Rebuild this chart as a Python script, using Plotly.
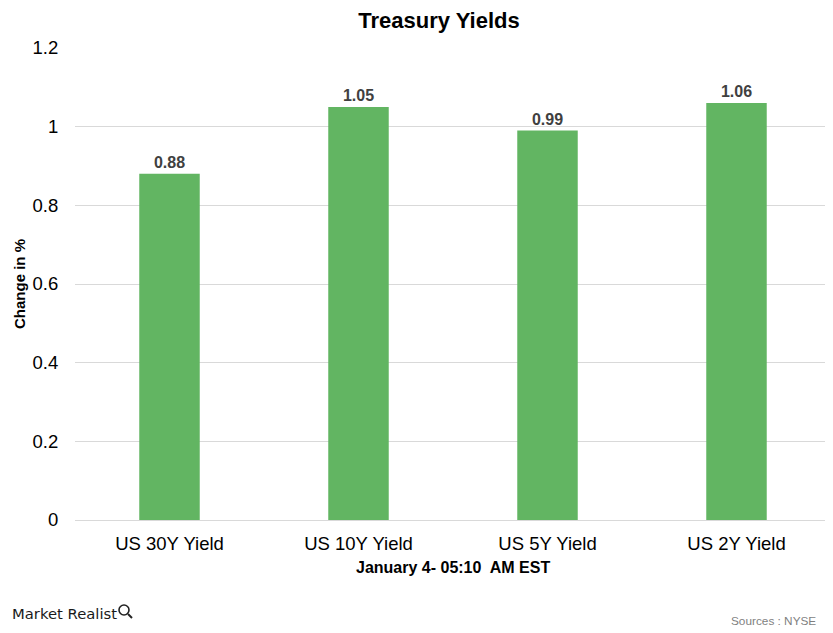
import plotly.graph_objects as go

categories = ["US 30Y Yield", "US 10Y Yield", "US 5Y Yield", "US 2Y Yield"]
values = [0.88, 1.05, 0.99, 1.06]
y_ticks = [0, 0.2, 0.4, 0.6, 0.8, 1, 1.2]

FONT = "Liberation Sans, Arial"

fig = go.Figure()
fig.add_trace(go.Bar(
    x=categories, y=values,
    marker=dict(color="#62B562", line=dict(width=0)),
    text=[f"<b>{v:.2f}</b>" for v in values],
    textposition="outside",
    textfont=dict(family=FONT, size=16, color="#404040"),
    cliponaxis=False,
))

fig.update_layout(
    width=833, height=633,
    margin=dict(l=67, r=10, t=40, b=121),
    paper_bgcolor="white", plot_bgcolor="white",
    bargap=0.68,
    showlegend=False,
    font=dict(family=FONT, color="#000000"),
    title=dict(text="<b>Treasury Yields</b>", x=0.4815, xref="paper", y=0.981, yref="container",
               xanchor="center", yanchor="middle",
               font=dict(size=22, color="#000000")),
    xaxis=dict(
        tickfont=dict(size=18.5, color="#000000"),
        ticks="outside", ticklen=7, tickcolor="rgba(0,0,0,0)",
        showgrid=False, showline=False,
    ),
    yaxis=dict(
        range=[0, 1.2], tickvals=y_ticks, ticktext=["0", "0.2", "0.4", "0.6", "0.8", "1", "1.2"],
        tickfont=dict(size=18.5, color="#000000"),
        showgrid=True, gridcolor="#d9d9d9", gridwidth=1,
        zeroline=True, zerolinecolor="#d9d9d9", zerolinewidth=1,
        ticks="outside", ticklen=12, tickcolor="rgba(0,0,0,0)",
    ),
)

# axis titles
fig.add_annotation(text="<b>Change in %</b>", xref="paper", yref="paper", x=0, y=0.5,
                   xshift=-56, textangle=-90, xanchor="center", yanchor="middle", showarrow=False,
                   font=dict(family=FONT, size=15, color="#000000"))
fig.add_annotation(text="<b>January 4- 05:10  AM EST</b>", xref="paper", yref="paper", x=0.5, y=0,
                   yshift=-47, xanchor="center", yanchor="middle", showarrow=False,
                   font=dict(family=FONT, size=16, color="#000000"))

# footer
fig.add_annotation(text="Market Realist", xref="paper", yref="paper", x=-0.086, y=-0.199,
                   xanchor="left", yanchor="middle", showarrow=False,
                   font=dict(family="DejaVu Sans, Liberation Sans", size=14.8, color="#1a1a1a"))
fig.add_annotation(text="Sources : NYSE", xref="paper", yref="paper", x=0.983, y=-0.214,
                   xanchor="right", yanchor="middle", showarrow=False,
                   font=dict(family=FONT, size=11.8, color="#7f7f7f"))

# small magnifier icon next to logo
fig.add_shape(type="circle", xref="paper", yref="paper", xsizemode="pixel", ysizemode="pixel",
              xanchor=0, yanchor=0, x0=44, x1=54, y0=-95, y1=-85,
              line=dict(color="#222222", width=1.6))
fig.add_shape(type="line", xref="paper", yref="paper", xsizemode="pixel", ysizemode="pixel",
              xanchor=0, yanchor=0, x0=53, y0=-94, x1=57, y1=-98,
              line=dict(color="#222222", width=2))

fig.write_html("out.html")
